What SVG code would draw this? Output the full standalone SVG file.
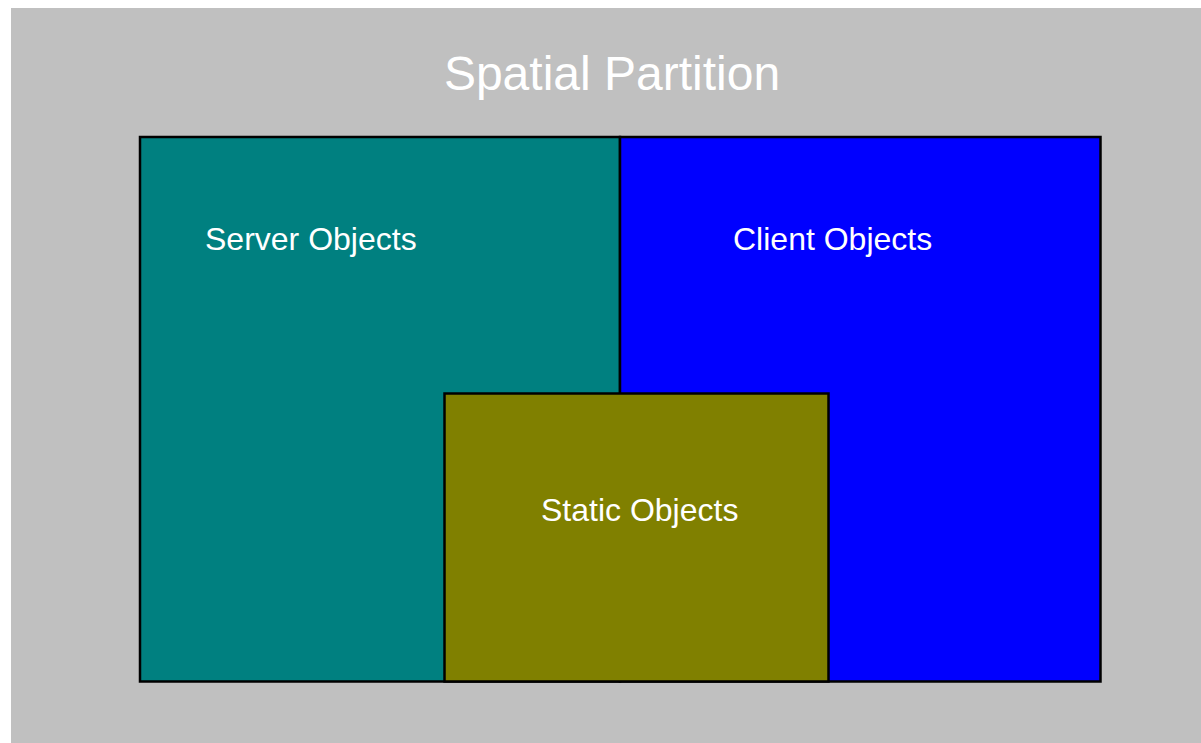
<svg xmlns="http://www.w3.org/2000/svg" width="1201" height="743" viewBox="0 0 1201 743">
  <style>
    .region { stroke: #000000; stroke-width: 2.5; }
    .label { font-family: "Liberation Sans", Arial, sans-serif; fill: #FFFFFF; font-size: 32px; }
    .title { font-family: "Liberation Sans", Arial, sans-serif; fill: #FFFFFF; font-size: 48px; text-anchor: middle; }
  </style>
  <rect x="0" y="0" width="1201" height="743" fill="#FFFFFF"/>
  <g id="partition">
    <rect x="11" y="8" width="1190" height="735" fill="#C0C0C0"/>
    <text class="title" x="612" y="90">Spatial Partition</text>
  </g>
  <g id="server-objects">
    <rect class="region" x="140" y="137" width="480" height="544.5" fill="#008080"/>
    <text class="label" x="205" y="250">Server Objects</text>
  </g>
  <g id="client-objects">
    <rect class="region" x="620" y="137" width="480.5" height="544.5" fill="#0000FF"/>
    <text class="label" x="733" y="250">Client Objects</text>
  </g>
  <g id="static-objects">
    <rect class="region" x="444.5" y="393.5" width="384" height="288" fill="#808000"/>
    <text class="label" x="541" y="521">Static Objects</text>
  </g>
  <g id="connectors"/>
</svg>
